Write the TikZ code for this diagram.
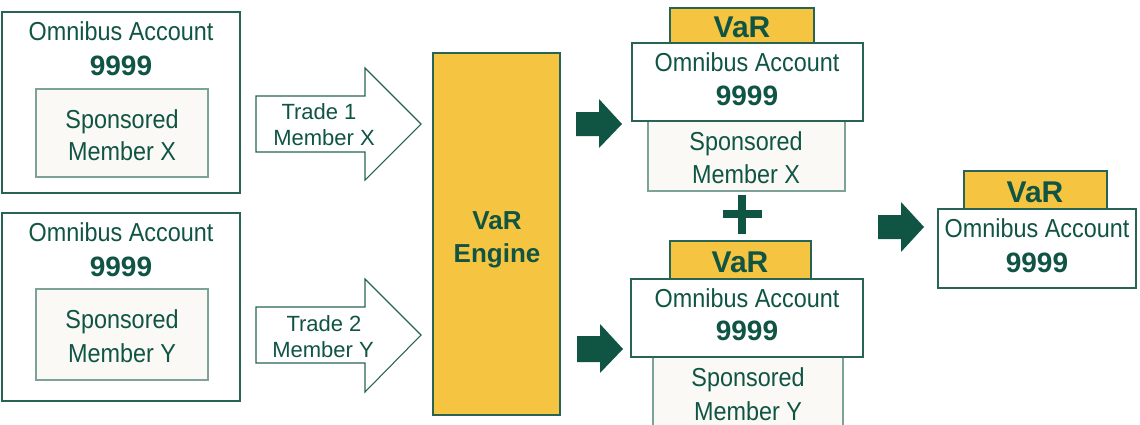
\documentclass[tikz,border=0pt]{standalone}
\usepackage{fontspec}
\setmainfont{Liberation Sans}
\newfontfamily\condfont{Liberation Sans}[FakeStretch=0.9]
\usetikzlibrary{fit}

\definecolor{ink}{RGB}{16,84,68}
\definecolor{edge}{RGB}{40,100,86}
\definecolor{softedge}{RGB}{125,162,152}
\definecolor{gold}{RGB}{245,197,66}
\definecolor{paper}{RGB}{250,249,246}

\tikzset{
  frame/.style={draw=edge, line width=0.9pt, fill=white, inner sep=0pt},
  subframe/.style={draw=softedge, line width=0.9pt, fill=paper, inner sep=0pt},
  varframe/.style={draw=edge, line width=0.9pt, fill=gold, inner sep=0pt},
  engineframe/.style={draw=edge, line width=1.6pt, fill=gold, inner sep=0pt},
  lbl/.style={text=ink, inner sep=0pt, anchor=base},
  reg/.style={lbl, font=\condfont\fontsize{19.5}{20}\selectfont},
  num/.style={lbl, font=\bfseries\fontsize{21}{22}\selectfont},
  var/.style={lbl, font=\bfseries\fontsize{22.5}{23}\selectfont},
  eng/.style={lbl, font=\bfseries\fontsize{19.5}{20}\selectfont},
  trade/.style={lbl, font=\fontsize{16.5}{17}\selectfont},
  outlinearrow/.style={draw=edge, line width=0.8pt, fill=white, line join=miter},
  solidarrow/.style={fill=ink, draw=none},
}

\begin{document}
\begin{tikzpicture}[x=0.75pt, y=-0.75pt]
\clip (0,0) rectangle (1140,425);
\fill[white] (0,0) rectangle (1140,425);

% ---- left: two omnibus accounts with their sponsored members
\node[frame, fit={(2,12) (240,193)}] (accX) {};
\node[subframe, fit={(36,89) (208,177)}] (memX) {};
\node[reg] (accXt) at (121,40) {Omnibus Account};
\node[num] (accXn) at (121,75) {9999};
\node[reg] (memXa) at (122,128) {Sponsored};
\node[reg] (memXb) at (122,160) {Member X};

\node[frame, fit={(2,213) (240,401)}] (accY) {};
\node[subframe, fit={(36,289) (208,380)}] (memY) {};
\node[reg] (accYt) at (121,241) {Omnibus Account};
\node[num] (accYn) at (121,276) {9999};
\node[reg] (memYa) at (122,328) {Sponsored};
\node[reg] (memYb) at (122,362) {Member Y};

% ---- trade arrows
\draw[outlinearrow] (256,96) -- (365,96) -- (365,68) -- (421,124) -- (365,180)
  -- (365,152) -- (256,152) -- cycle;
\node[trade] (tr1a) at (319,119) {Trade 1};
\node[trade] (tr1b) at (324,145) {Member X};

\draw[outlinearrow] (256,307) -- (365,307) -- (365,279) -- (421,335) -- (365,392)
  -- (365,363) -- (256,363) -- cycle;
\node[trade] (tr2a) at (324,331) {Trade 2};
\node[trade] (tr2b) at (323,357) {Member Y};

% ---- engine
\node[engineframe, fit={(433,53) (560,415)}] (engine) {};
\node[eng] (engA) at (497,229) {VaR};
\node[eng] (engB) at (497,262) {Engine};

% ---- solid arrows
\fill[solidarrow] (576,112) -- (599,112) -- (599,99) -- (622,124) -- (599,148)
  -- (599,136) -- (576,136) -- cycle;
\fill[solidarrow] (577,336) -- (600,336) -- (600,324) -- (623,349) -- (600,373)
  -- (600,362) -- (577,362) -- cycle;
\fill[solidarrow] (878,215) -- (901,215) -- (901,202) -- (924,227) -- (901,252)
  -- (901,239) -- (878,239) -- cycle;

% ---- per-member results
\node[subframe, fit={(648,121) (845,191)}] (resXm) {};
\node[frame, fit={(632,43) (863,121)}] (resXa) {};
\node[varframe, fit={(670,8) (814,43)}] (resXv) {};
\node[var] (resXvt) at (742,37) {VaR};
\node[reg] (resXat) at (747,71) {Omnibus Account};
\node[num] (resXan) at (747,105) {9999};
\node[reg] (resXma) at (746,150) {Sponsored};
\node[reg] (resXmb) at (746,183) {Member X};

% plus sign
\fill[ink] (738,195) rectangle (746,234);
\fill[ink] (723,210) rectangle (762,218);

\node[subframe, fit={(653,357) (843,440)}] (resYm) {};
\node[frame, fit={(631,279) (863,357)}] (resYa) {};
\node[varframe, fit={(670,241) (811,279)}] (resYv) {};
\node[var] (resYvt) at (740,272) {VaR};
\node[reg] (resYat) at (747,307) {Omnibus Account};
\node[num] (resYan) at (747,340) {9999};
\node[reg] (resYma) at (748,386) {Sponsored};
\node[reg] (resYmb) at (748,420) {Member Y};

% ---- combined result
\node[frame, fit={(938,209) (1136,288)}] (total) {};
\node[varframe, fit={(964,171) (1107,209)}] (totalv) {};
\node[var] (totalvt) at (1035,202) {VaR};
\node[reg] (totalt) at (1037,237) {Omnibus Account};
\node[num] (totaln) at (1037,272) {9999};
\end{tikzpicture}
\end{document}
